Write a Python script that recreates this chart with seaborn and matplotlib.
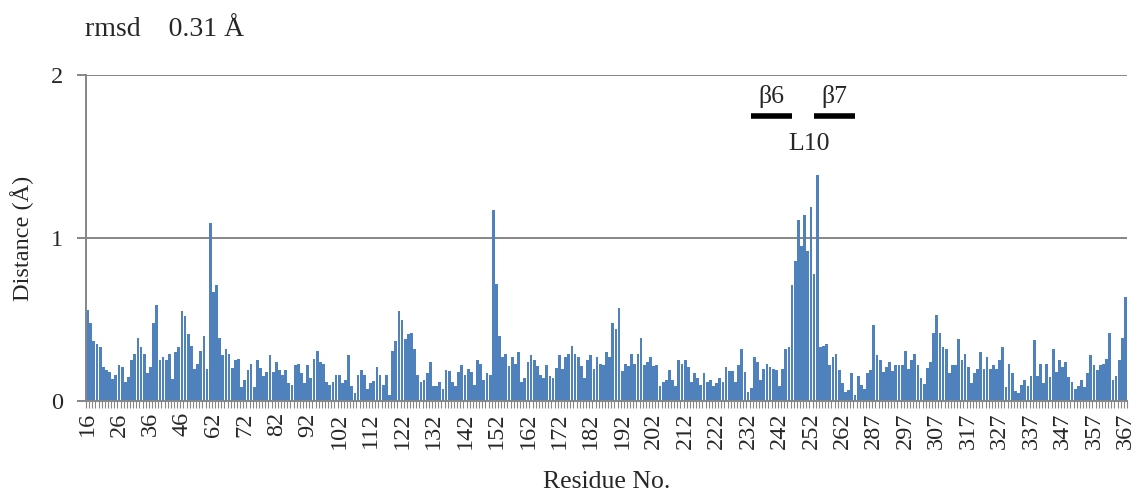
import matplotlib
matplotlib.use("Agg")
import numpy as np
import pandas as pd
import matplotlib.pyplot as plt
import seaborn as sns

# ---- data ----
residues = list(range(16, 56)) + list(range(62, 272)) + list(range(287, 368))
distance = [
    0.56, 0.48, 0.37, 0.35, 0.33, 0.21, 0.19, 0.18, 0.135, 0.16,
    0.22, 0.21, 0.12, 0.145, 0.25, 0.29, 0.39, 0.33, 0.29, 0.17,
    0.21, 0.48, 0.59, 0.25, 0.27, 0.25, 0.29, 0.135, 0.30, 0.33,
    0.553, 0.52, 0.41, 0.34, 0.195, 0.23, 0.31, 0.40, 0.195, 1.09,
    0.67, 0.71, 0.385, 0.28, 0.32, 0.29, 0.205, 0.25, 0.26, 0.085,
    0.13, 0.19, 0.23, 0.085, 0.25, 0.205, 0.155, 0.18, 0.28, 0.18,
    0.24, 0.19, 0.16, 0.19, 0.11, 0.10, 0.22, 0.23, 0.17, 0.11,
    0.22, 0.14, 0.26, 0.31, 0.24, 0.23, 0.12, 0.10, 0.115, 0.16,
    0.16, 0.11, 0.13, 0.28, 0.09, 0.05, 0.16, 0.19, 0.16, 0.075,
    0.11, 0.125, 0.21, 0.16, 0.10, 0.16, 0.04, 0.31, 0.37, 0.55,
    0.50, 0.38, 0.41, 0.42, 0.32, 0.16, 0.12, 0.13, 0.17, 0.24,
    0.09, 0.09, 0.12, 0.075, 0.19, 0.185, 0.115, 0.09, 0.18, 0.22,
    0.16, 0.20, 0.18, 0.10, 0.25, 0.23, 0.13, 0.17, 0.16, 1.17,
    0.72, 0.40, 0.27, 0.29, 0.215, 0.27, 0.23, 0.30, 0.12, 0.14,
    0.24, 0.28, 0.25, 0.215, 0.16, 0.14, 0.22, 0.155, 0.14, 0.205,
    0.28, 0.195, 0.27, 0.29, 0.34, 0.29, 0.27, 0.215, 0.14, 0.25,
    0.28, 0.195, 0.27, 0.23, 0.22, 0.30, 0.27, 0.48, 0.44, 0.57,
    0.185, 0.23, 0.215, 0.29, 0.23, 0.29, 0.39, 0.22, 0.24, 0.27,
    0.215, 0.22, 0.094, 0.12, 0.13, 0.19, 0.13, 0.094, 0.25, 0.23,
    0.25, 0.21, 0.12, 0.17, 0.14, 0.10, 0.17, 0.12, 0.13, 0.094,
    0.11, 0.14, 0.12, 0.21, 0.185, 0.185, 0.12, 0.22, 0.32, 0.18,
    0.053, 0.08, 0.27, 0.24, 0.13, 0.20, 0.23, 0.21, 0.20, 0.19,
    0.094, 0.20, 0.32, 0.33, 0.71, 0.86, 1.11, 0.95, 1.14, 0.92,
    1.19, 0.78, 1.39, 0.33, 0.34, 0.35, 0.22, 0.27, 0.29, 0.19,
    0.11, 0.057, 0.07, 0.17, 0.037, 0.155, 0.10, 0.072, 0.174, 0.19,
    0.47, 0.28, 0.25, 0.18, 0.21, 0.24, 0.185, 0.22, 0.22, 0.22,
    0.31, 0.20, 0.25, 0.29, 0.22, 0.14, 0.105, 0.205, 0.24, 0.42,
    0.53, 0.42, 0.33, 0.32, 0.17, 0.22, 0.22, 0.38, 0.25, 0.29,
    0.21, 0.11, 0.17, 0.20, 0.30, 0.20, 0.27, 0.20, 0.22, 0.20,
    0.25, 0.33, 0.088, 0.23, 0.17, 0.06, 0.047, 0.10, 0.13, 0.092,
    0.155, 0.375, 0.155, 0.23, 0.11, 0.23, 0.145, 0.32, 0.18, 0.25,
    0.21, 0.24, 0.15, 0.12, 0.072, 0.094, 0.13, 0.088, 0.17, 0.28,
    0.22, 0.19, 0.22, 0.23, 0.26, 0.42, 0.13, 0.155, 0.25, 0.385, 0.64,
]
labels = [str(r) for r in residues]
assert len(labels) == len(distance)

title_text = "rmsd    0.31 Å"
strand_labels = ["β6", "β7"]
loop_label = "L10"

# ---- style ----
sns.set_style("white")
plt.rcParams["font.family"] = ["Liberation Serif", "DejaVu Serif"]

BAR = "#4F81BD"
GRID = "#868686"
FS = 17.5

df = pd.DataFrame({"residue": labels, "distance": distance})

fig = plt.figure(figsize=(11.39, 4.94), dpi=100)
ax = fig.add_axes([0.0755, 0.188, 0.914, 0.66])

sns.barplot(data=df, x="residue", y="distance", order=labels, color=BAR,
            saturation=1, width=0.88, ax=ax, errorbar=None,
            linewidth=0, edgecolor="none")

n = len(labels)
ax.set_xlim(-0.5, n - 0.5)
ax.set_ylim(0, 2)
ax.set_yticks([0, 1, 2])
ax.set_yticklabels(["0", "1", "2"], fontsize=FS)
ax.yaxis.grid(True, color=GRID, linewidth=1.4)
ax.xaxis.grid(False)
ax.set_axisbelow(True)

for s in ["top", "right"]:
    ax.spines[s].set_visible(False)
for s in ["left", "bottom"]:
    ax.spines[s].set_color(GRID)
    ax.spines[s].set_linewidth(1.4)

ax.tick_params(axis="y", length=6.5, width=1.4, color=GRID, pad=10, left=True)

major = np.arange(0, n, 10)
ax.set_xticks(major)
ax.set_xticklabels([labels[i] for i in major], rotation=90, fontsize=FS)
ax.set_xticks(np.arange(-0.5, n, 1), minor=True)
ax.tick_params(axis="x", which="major", length=0, pad=8, bottom=True)
ax.tick_params(axis="x", which="minor", length=5, width=0.8, color=GRID, bottom=True)

ax.set_ylabel("Distance (Å)", fontsize=FS, labelpad=12)
ax.set_xlabel("Residue No.", fontsize=FS + 1)
ax.xaxis.set_label_coords(0.5, -0.215)

fig.text(85 / 1139, 1 - 30 / 494, title_text, fontsize=20, ha="left", va="center")

# secondary structure annotation
ax.plot([211, 224], [1.75, 1.75], color="black", lw=4, solid_capstyle="butt")
ax.plot([231, 244], [1.75, 1.75], color="black", lw=4, solid_capstyle="butt")
ax.text(217.5, 1.87, strand_labels[0], fontsize=FS + 1, ha="center", va="center")
ax.text(237.5, 1.87, strand_labels[1], fontsize=FS + 1, ha="center", va="center")
ax.text(229.5, 1.58, loop_label, fontsize=FS + 1, ha="center", va="center")

fig.savefig("out.png", dpi=100)
